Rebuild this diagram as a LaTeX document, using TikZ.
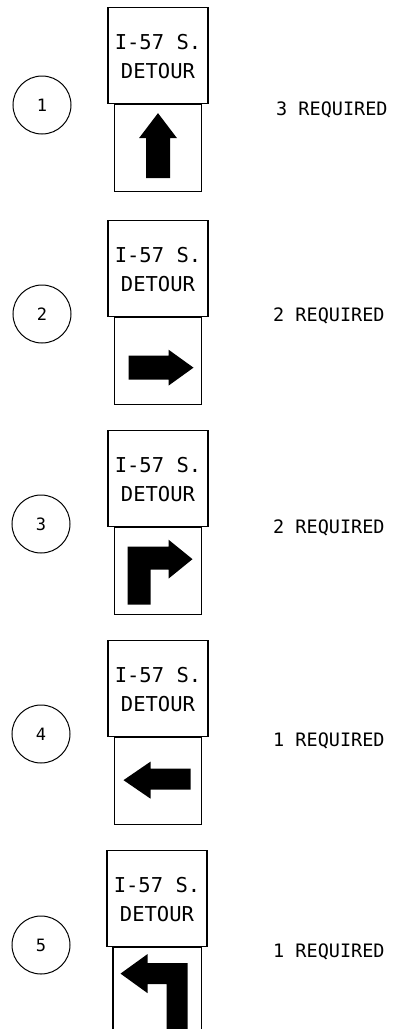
\documentclass[tikz,border=0pt]{standalone}
\usepackage{fontspec}
\usetikzlibrary{calc}
\newfontfamily\plotfont{DejaVu Sans Mono}
\begin{document}
\begin{tikzpicture}[x=1pt,y=-1pt,
  signtop/.style={draw, line width=1.1pt, minimum width=100pt, minimum height=96pt, inner sep=0pt, anchor=north},
  signbot/.style={draw, line width=1.1pt, minimum width=87pt, minimum height=87pt, inner sep=0pt, anchor=north},
  numcirc/.style={draw, circle, line width=1pt, minimum size=58pt, inner sep=0pt, font=\plotfont\fontsize{17}{17}\selectfont},
  req/.style={anchor=base west, inner sep=0pt, font=\plotfont\fontsize{18.5}{18.5}\selectfont},
  legend/.style={anchor=base, inner sep=0pt, font=\plotfont\fontsize{20.5}{20.5}\selectfont},
  arrowfill/.style={fill=black}]
\useasboundingbox (0,0) rectangle (396,1029);

% ---------- sign 1 ----------
\node[signtop] (t1) at (158,7) {};
\node[signbot] (b1) at (t1.south) {};
\node[legend] (l1a) at ($(t1.north)+(0,42)$) {I-57 S.};
\node[legend] (l1b) at ($(t1.north)+(0,71)$) {DETOUR};
\begin{scope}[shift={(b1.center)}]
  \fill[arrowfill] (-12,30) -- (-12,-10) -- (-19,-10) -- (0,-35) -- (19,-10) -- (12,-10) -- (12,30) -- cycle;
\end{scope}
\node[numcirc] (c1) at (42,105) {1};
\node[req] (r1) at (276,115) {3 REQUIRED};

% ---------- sign 2 ----------
\node[signtop] (t2) at (158,220) {};
\node[signbot] (b2) at (t2.south) {};
\node[legend] (l2a) at ($(t2.north)+(0,42)$) {I-57 S.};
\node[legend] (l2b) at ($(t2.north)+(0,71)$) {DETOUR};
\begin{scope}[shift={(b2.center)}]
  \fill[arrowfill] (-29.5,-5.5) -- (10.5,-5.5) -- (10.5,-11.5) -- (35.5,6.5) -- (10.5,24.5) -- (10.5,18.5) -- (-29.5,18.5) -- cycle;
\end{scope}
\node[numcirc] (c2) at (42,314) {2};
\node[req] (r2) at (273,321) {2 REQUIRED};

% ---------- sign 3 ----------
\node[signtop] (t3) at (158,430) {};
\node[signbot] (b3) at (t3.south) {};
\node[legend] (l3a) at ($(t3.north)+(0,42)$) {I-57 S.};
\node[legend] (l3b) at ($(t3.north)+(0,71)$) {DETOUR};
\begin{scope}[shift={(b3.center)}]
  \fill[arrowfill] (-30.5,33.5) -- (-30.5,-24.5) -- (10.5,-24.5) -- (10.5,-31.5) -- (34.5,-12) -- (10.5,7.5) -- (10.5,-1.5) -- (-7.5,-1.5) -- (-7.5,33.5) -- cycle;
\end{scope}
\node[numcirc] (c3) at (41,524) {3};
\node[req] (r3) at (273,533) {2 REQUIRED};

% ---------- sign 4 ----------
\node[signtop] (t4) at (158,640) {};
\node[signbot] (b4) at (t4.south) {};
\node[legend] (l4a) at ($(t4.north)+(0,42)$) {I-57 S.};
\node[legend] (l4b) at ($(t4.north)+(0,71)$) {DETOUR};
\begin{scope}[shift={(b4.center)}]
  \fill[arrowfill] (-34.5,-1) -- (-7.5,-19.5) -- (-7.5,-12.5) -- (32.5,-12.5) -- (32.5,8.5) -- (-7.5,8.5) -- (-7.5,17.5) -- cycle;
\end{scope}
\node[numcirc] (c4) at (41,734) {4};
\node[req] (r4) at (273,746) {1 REQUIRED};

% ---------- sign 5 ----------
\node[signtop] (t5) at (157,850) {};
\node[signbot, draw=none, minimum height=83pt] (b5) at (t5.south) {};
\draw[line width=1.1pt] (b5.south west) -- (b5.north west) -- (b5.north east) -- (b5.south east);
\node[legend] (l5a) at ($(t5.north)+(0,42)$) {I-57 S.};
\node[legend] (l5b) at ($(t5.north)+(0,71)$) {DETOUR};
\begin{scope}[shift={(b5.north)}]
  \fill[arrowfill] (-36.5,26.5) -- (-9.5,7) -- (-9.5,16) -- (30.5,16) -- (30.5,83) -- (9.5,83) -- (9.5,37) -- (-9.5,37) -- (-9.5,46) -- cycle;
\end{scope}
\node[numcirc] (c5) at (41,945) {5};
\node[req] (r5) at (273,957) {1 REQUIRED};
\end{tikzpicture}
\end{document}
